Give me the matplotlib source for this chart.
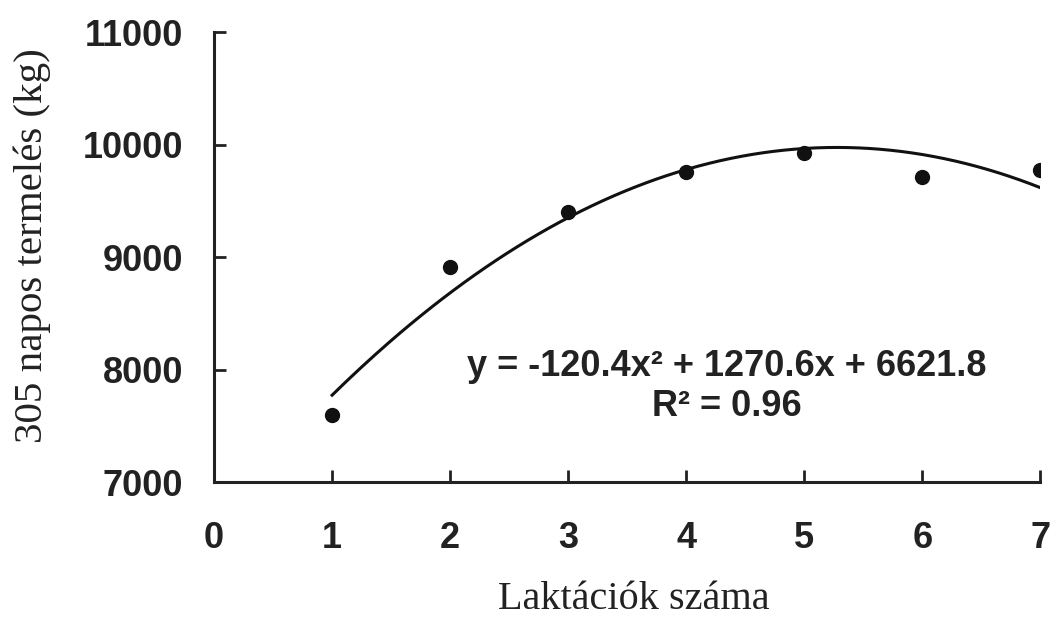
import matplotlib.pyplot as plt
import numpy as np

# laktáció sorszáma és 305 napos termelés (kg)
laktacio = [1, 2, 3, 4, 5, 6, 7]
termeles = [7600, 8910, 9400, 9755, 9925, 9710, 9770]

# illesztett másodfokú trend
coef = [-120.4, 1270.6, 6621.8]
r2 = 0.96

fig = plt.figure(figsize=(10.56, 6.23), dpi=100)
ax = fig.add_axes([0.2027, 0.2263, 0.7825, 0.7223])

xs = np.linspace(1, 7, 200)
ax.plot(xs, np.polyval(coef, xs), color="#111111", linewidth=2.2)
ax.plot(laktacio, termeles, "o", color="#111111", markersize=10)

ax.text(
    4.34, 7850,
    f"y = {coef[0]}x² + {coef[1]}x + {coef[2]}\nR² = {r2}",
    ha="center", va="center", fontsize=26, fontweight="bold",
    family="Liberation Sans", color="#222222", linespacing=1.2,
)

ax.set(xlim=(0, 7), ylim=(7000, 11000), xticks=range(0, 8), yticks=range(7000, 11001, 1000))
for s in ["top", "right"]:
    ax.spines[s].set_visible(False)
for s in ["left", "bottom"]:
    ax.spines[s].set_linewidth(2.2)
    ax.spines[s].set_color("#222222")

ax.tick_params(direction="in", length=8.5, width=2.0, color="#222222")
ax.tick_params(axis="y", pad=22)
ax.tick_params(axis="x", pad=28)
for lab in ax.get_xticklabels() + ax.get_yticklabels():
    lab.set_fontfamily("Liberation Sans")
    lab.set_fontweight("bold")
    lab.set_fontsize(26)
    lab.set_color("#222222")

fig.text(0.6, 0.038, "Laktációk száma", ha="center", va="center",
         family="Liberation Serif", fontsize=29, color="#222222")
fig.text(0.031, 0.605, "305 napos termelés (kg)", ha="center", va="center", rotation=90,
         family="Liberation Serif", fontsize=29.5, color="#222222")

plt.savefig("out.png", dpi=100)
